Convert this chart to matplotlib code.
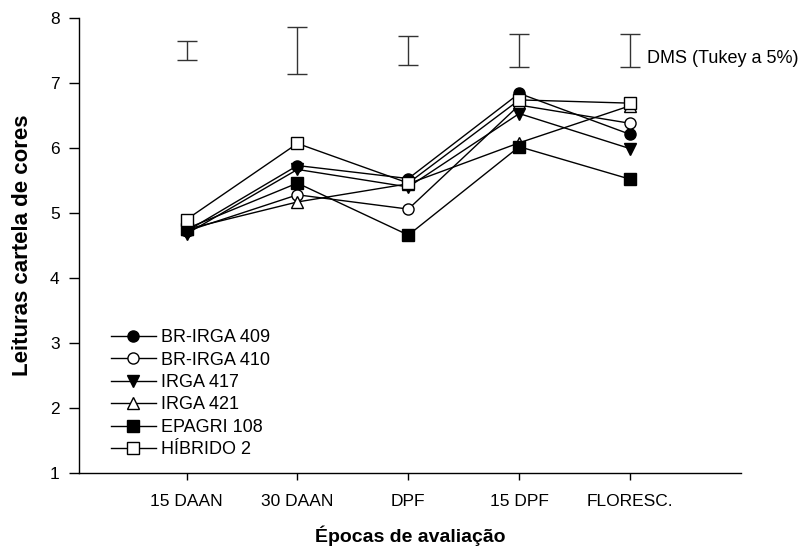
import numpy as np
import matplotlib.pyplot as plt

plt.rcParams['font.family'] = ['Liberation Sans', 'DejaVu Sans']

# épocas de avaliação
epocas = ['15 DAAN', '30 DAAN', 'DPF', '15 DPF', 'FLORESC.']

# leituras médias por cultivar
br_irga_409 = [4.72, 5.73, 5.53, 6.84, 6.21]
br_irga_410 = [4.72, 5.28, 5.06, 6.66, 6.38]
irga_417 = [4.68, 5.67, 5.40, 6.53, 5.99]
irga_421 = [4.75, 5.17, 5.45, 6.08, 6.65]
epagri_108 = [4.76, 5.46, 4.66, 6.02, 5.52]
hibrido_2 = [4.90, 6.07, 5.46, 6.74, 6.69]

# DMS (Tukey a 5%) em cada época, desenhada em torno de 7.5
dms_centro = 7.5
dms = [0.28, 0.71, 0.46, 0.52, 0.51]

series = [
    ('BR-IRGA 409', br_irga_409, 'o', 'black'),
    ('BR-IRGA 410', br_irga_410, 'o', 'white'),
    ('IRGA 417', irga_417, 'v', 'black'),
    ('IRGA 421', irga_421, '^', 'white'),
    ('EPAGRI 108', epagri_108, 's', 'black'),
    ('HÍBRIDO 2', hibrido_2, 's', 'white'),
]

fig = plt.figure(figsize=(8.06, 5.46), dpi=100)
ax = fig.add_axes([79 / 806, 73 / 546, 662 / 806, 455 / 546])

x = np.arange(1, len(epocas) + 1)

for nome, valores, marcador, cor in series:
    ax.plot(x, valores, color='black', lw=1.0, marker=marcador,
            markersize=8, markerfacecolor=cor, markeredgecolor='black',
            markeredgewidth=1.0, label=nome)

# barras da DMS
ax.errorbar(x, np.full(len(x), dms_centro), yerr=np.array(dms) / 2,
            fmt='none', ecolor='#333333', elinewidth=1.0, capsize=7,
            capthick=1.0)
ax.text(5.15, 7.38, 'DMS (Tukey a 5%)', fontsize=13, va='center', ha='left')

ax.set_xlim(0.03, 6)
ax.set_ylim(1, 8)
ax.set_xticks(x)
ax.set_xticklabels(epocas)
ax.set_yticks(range(1, 9))
ax.tick_params(axis='both', labelsize=12.5, direction='out', width=1.0)
ax.tick_params(axis='y', length=7, pad=7)
ax.tick_params(axis='x', length=5, pad=10)

for lado in ['top', 'right']:
    ax.spines[lado].set_visible(False)
for lado in ['left', 'bottom']:
    ax.spines[lado].set_linewidth(1.0)

ax.set_xlabel('Épocas de avaliação', fontsize=14, fontweight='bold', labelpad=12)
ax.set_ylabel('Leituras cartela de cores', fontsize=16, fontweight='bold', labelpad=12)

ax.legend(loc='upper left', bbox_to_anchor=(0.048, 0.316), frameon=False,
          fontsize=13, handlelength=2.5, handletextpad=0.3,
          labelspacing=0.3, borderpad=0, borderaxespad=0)

fig.savefig('out.png', dpi=100)
